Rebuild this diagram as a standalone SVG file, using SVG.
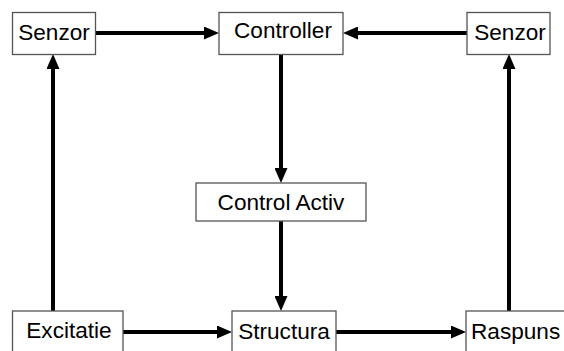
<svg xmlns="http://www.w3.org/2000/svg" width="564" height="351" viewBox="0 0 564 351">
<style>
.box{fill:#fff;stroke:#555;stroke-width:1.3}
.lbl{font-family:"Liberation Sans",Arial,sans-serif;font-size:22.6px;fill:#000}
.c{text-anchor:middle}
.ln{stroke:#000;stroke-width:4;fill:none}
</style>
<defs>
<marker id="ah" markerUnits="userSpaceOnUse" markerWidth="15" markerHeight="13" refX="7" refY="6.5" orient="auto" viewBox="0 0 15 13">
<path d="M0,0 L15,6.5 L0,13 z" fill="#000"/>
</marker>
</defs>
<rect width="564" height="351" fill="#fff"/>
<g id="connectors">
<line class="ln" x1="95" y1="33" x2="211" y2="33" marker-end="url(#ah)"/>
<line class="ln" x1="467" y1="33" x2="351" y2="33" marker-end="url(#ah)"/>
<line class="ln" x1="281" y1="54" x2="281" y2="175" marker-end="url(#ah)"/>
<line class="ln" x1="281" y1="221" x2="281" y2="303" marker-end="url(#ah)"/>
<line class="ln" x1="53" y1="311" x2="53" y2="62" marker-end="url(#ah)"/>
<line class="ln" x1="509" y1="311" x2="509" y2="62" marker-end="url(#ah)"/>
<line class="ln" x1="123" y1="332" x2="224" y2="332" marker-end="url(#ah)"/>
<line class="ln" x1="336" y1="332" x2="458" y2="332" marker-end="url(#ah)"/>
</g>
<g id="senzor-left">
<rect class="box" x="12.5" y="12.5" width="83" height="42"/>
<text class="lbl c" x="54" y="40">Senzor</text>
</g>
<g id="controller">
<rect class="box" x="219" y="12.5" width="124" height="42"/>
<text class="lbl c" x="283" y="38">Controller</text>
</g>
<g id="senzor-right">
<rect class="box" x="467" y="12.5" width="83" height="42"/>
<text class="lbl c" x="510" y="40">Senzor</text>
</g>
<g id="control-activ">
<rect class="box" x="196" y="183" width="170" height="38"/>
<text class="lbl c" x="281" y="210">Control Activ</text>
</g>
<g id="excitatie">
<rect class="box" x="12.5" y="311" width="110.5" height="50"/>
<text class="lbl c" x="69" y="338">Excitatie</text>
</g>
<g id="structura">
<rect class="box" x="232" y="311" width="104" height="50"/>
<text class="lbl c" x="284" y="339">Structura</text>
</g>
<g id="raspuns">
<rect class="box" x="466" y="311" width="110" height="50"/>
<text class="lbl" x="471" y="339">Raspuns</text>
</g>
</svg>
